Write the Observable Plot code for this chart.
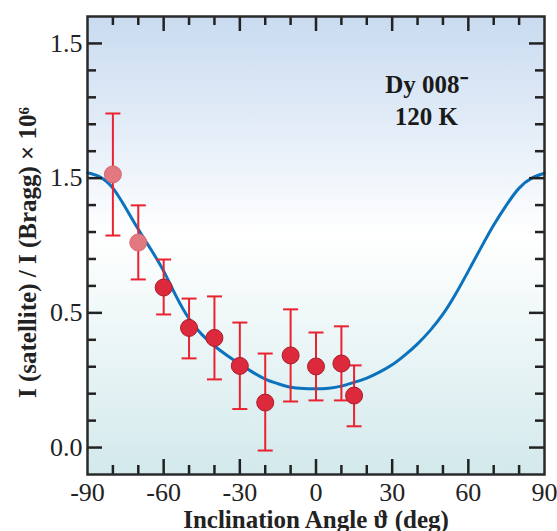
<!DOCTYPE html>
<html>
<head>
<meta charset="utf-8">
<script src="https://cdn.jsdelivr.net/npm/d3@7"></script>
<script src="https://cdn.jsdelivr.net/npm/@observablehq/plot@0.6"></script>
<style>
  html, body { margin: 0; padding: 0; background: #fff; }
  g[aria-label="sample-label"] text { filter: drop-shadow(1.5px 1.5px 1.5px rgba(0,0,0,0.45)); }
  g[aria-label="axis-title"] text { letter-spacing: 1.8px; }
</style>
</head>
<body>
<div id="chart"></div>
<script>
// ---- measured data points ----
const angles    = [-80, -70, -60, -50, -40, -30, -20, -10, 0, 10, 15];
const intensity = [1.014, 0.761, 0.594, 0.444, 0.407, 0.303, 0.167, 0.342, 0.301, 0.312, 0.193];
const errLow    = [0.787, 0.624, 0.494, 0.331, 0.253, 0.143, -0.011, 0.171, 0.175, 0.175, 0.079];
const errHigh   = [1.240, 0.899, 0.698, 0.553, 0.561, 0.464, 0.349, 0.513, 0.427, 0.450, 0.305];
const pointGroup = ["faint", "faint", "main", "main", "main", "main", "main", "main", "main", "main", "main"];

// ---- model curve ----
const curveAngles = [-90, -85, -80, -75, -70, -65, -60, -55, -50, -45, -40, -35, -30, -25, -20, -15, -10, -5, 0,
                     5, 10, 15, 20, 25, 30, 35, 40, 45, 50, 55, 60, 65, 70, 75, 80, 85, 90];
const curveValues = [1.02, 1.004, 0.963, 0.89, 0.81, 0.735, 0.655, 0.56, 0.478, 0.42, 0.377, 0.342, 0.31, 0.28, 0.254, 0.237, 0.224, 0.219, 0.218,
                     0.22, 0.228, 0.242, 0.258, 0.28, 0.307, 0.343, 0.385, 0.435, 0.495, 0.57, 0.655, 0.742, 0.826, 0.90, 0.963, 1.0, 1.018];

// ---- axes ----
const xTickValues = [-90, -60, -30, 0, 30, 60, 90];
const xMajorTicks = [-60, -30, 0, 30, 60];
const xMinorTicks = [-80, -70, -50, -40, -20, -10, 10, 20, 40, 50, 70, 80];
const yTickValues = [0, 0.5, 1.0, 1.5];
const yTickLabels = ["0.0", "0.5", "1.5", "1.5"];
const yMinorTicks = [0.1, 0.2, 0.3, 0.4, 0.6, 0.7, 0.8, 0.9, 1.1, 1.2, 1.3, 1.4];
const xLabel = "Inclination Angle \u03D1 (deg)";
const yLabel = "I (satellite) / I (Bragg) \u00D7 10\u2076";
const sampleLabel = ["Dy 008\u207B\n120 K"];
const sampleLabelPos = {x: 43.5, y: 1.196};

const points = angles.map((a, i) => ({angle: a, value: intensity[i], lo: errLow[i], hi: errHigh[i], group: pointGroup[i]}));
const curve = curveAngles.map((a, i) => ({angle: a, value: curveValues[i]}));

const W = 557, H = 531;
const mL = 87, mR = 13, mT = 16, mB = 57;
const plotW = W - mL - mR, plotH = H - mT - mB;
const major = 15, minor = 9;

function background(index, scales, values, dims) {
  const g = d3.create("svg:g");
  const lg = g.append("defs").append("linearGradient")
    .attr("id", "bggrad").attr("x1", 0).attr("x2", 0).attr("y1", 0).attr("y2", 1);
  [["0%", "#c9dbf0"], ["25%", "#e4edf8"], ["48%", "#ffffff"], ["75%", "#e8f4f5"], ["100%", "#d3e9ec"]]
    .forEach(([o, c]) => lg.append("stop").attr("offset", o).attr("stop-color", c));
  g.append("rect")
    .attr("x", dims.marginLeft).attr("y", dims.marginTop)
    .attr("width", dims.width - dims.marginLeft - dims.marginRight)
    .attr("height", dims.height - dims.marginTop - dims.marginBottom)
    .attr("fill", "url(#bggrad)");
  return g.node();
}

const capSymbol = {
  draw(context, size) {
    const w = Math.sqrt(size / Math.PI);
    context.moveTo(-w, 0);
    context.lineTo(w, 0);
  }
};

const tickStyle = {stroke: "#222", strokeWidth: 2.5};

const chart = Plot.plot({
  width: W, height: H,
  marginLeft: mL, marginRight: mR, marginTop: mT, marginBottom: mB,
  style: {fontFamily: "'Liberation Serif', 'Times New Roman', serif", fontSize: "26px", color: "#222", background: "#fff", overflow: "visible"},
  x: {domain: [-90, 90]},
  y: {domain: [-0.1, 1.6]},
  color: {domain: ["faint", "main"], range: ["#e27880", "#dc2a3c"]},
  marks: [
    background,
    Plot.line(curve, {x: "angle", y: "value", stroke: "#0b72bd", strokeWidth: 3, curve: "natural"}),
    Plot.ruleX(points, {x: "angle", y1: "lo", y2: "hi", stroke: "#ea2230", strokeWidth: 2}),
    Plot.dot(points, {x: "angle", y: "lo", symbol: capSymbol, r: 7.5, stroke: "#ea2230", strokeWidth: 2, fill: "none"}),
    Plot.dot(points, {x: "angle", y: "hi", symbol: capSymbol, r: 7.5, stroke: "#ea2230", strokeWidth: 2, fill: "none"}),
    Plot.dot(points, {x: "angle", y: "value", r: 8.5, fill: "group", stroke: d => d.group === "faint" ? "#d96870" : "#a91b2a", strokeWidth: 1}),
    // ticks inward on all four sides
    Plot.tickX(xMajorTicks, {x: d => d, insetTop: plotH - major, ...tickStyle}),
    Plot.tickX(xMinorTicks, {x: d => d, insetTop: plotH - minor, ...tickStyle}),
    Plot.tickX(xMajorTicks, {x: d => d, insetBottom: plotH - major, ...tickStyle}),
    Plot.tickX(xMinorTicks, {x: d => d, insetBottom: plotH - minor, ...tickStyle}),
    Plot.tickY(yTickValues, {y: d => d, insetRight: plotW - major, ...tickStyle}),
    Plot.tickY(yMinorTicks, {y: d => d, insetRight: plotW - minor, ...tickStyle}),
    Plot.tickY(yTickValues, {y: d => d, insetLeft: plotW - major, ...tickStyle}),
    Plot.tickY(yMinorTicks, {y: d => d, insetLeft: plotW - minor, ...tickStyle}),
    Plot.frame({stroke: "#2a2a2a", strokeWidth: 2.5}),
    Plot.axisX(xTickValues, {tickSize: 0, tickPadding: 8, tickFormat: d => String(d), fontSize: 26, label: null}),
    Plot.axisY(yTickValues, {tickSize: 0, tickPadding: 5, tickFormat: d => yTickLabels[yTickValues.indexOf(d)], fontSize: 26, label: null}),
    Plot.text([xLabel], {frameAnchor: "bottom", dy: 53, textAnchor: "middle", lineAnchor: "bottom", fontWeight: "bold", fontSize: 25, fill: "#222", ariaLabel: "axis-title"}),
    Plot.text([yLabel], {frameAnchor: "left", dx: -60, dy: 7, rotate: -90, textAnchor: "middle", lineAnchor: "middle", fontWeight: "bold", fontSize: 25, fill: "#222", ariaLabel: "axis-title"}),
    Plot.text(sampleLabel, {x: () => sampleLabelPos.x, y: () => sampleLabelPos.y, textAnchor: "middle", lineAnchor: "bottom", lineHeight: 1.28, fontWeight: "bold", fontSize: 25, fill: "#1a1a1a", ariaLabel: "sample-label"})
  ]
});

document.getElementById("chart").appendChild(chart);
</script>
</body>
</html>
